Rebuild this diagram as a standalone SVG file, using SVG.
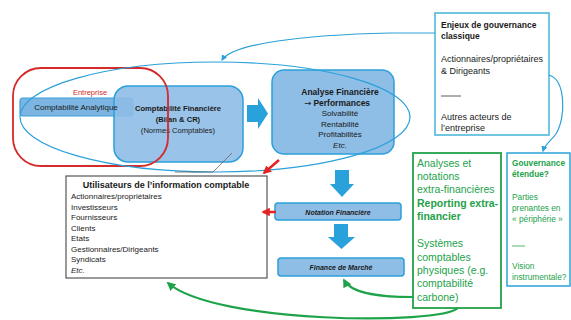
<svg xmlns="http://www.w3.org/2000/svg" width="571" height="320" viewBox="0 0 571 320">
<defs>
<style>
text{font-family:"Liberation Sans",Arial,sans-serif;fill:#1a1a1a}
.bx{fill:#8ebde6;stroke:#2aa1d9;stroke-width:1.5}
.arr{fill:#29a2dc}
.b{font-weight:bold}
.c{text-anchor:middle}
.g{fill:#23a24a}
.blue{fill:none;stroke:#2aa1d9;stroke-width:1.2}
.green{fill:none;stroke:#1fa34a;stroke-width:2.2}
.red{fill:none;stroke:#e52421;stroke-width:2.5}
</style>
<marker id="mb" viewBox="0 0 10 10" refX="8" refY="5" markerWidth="5" markerHeight="5" orient="auto"><path d="M0,0 L10,5 L0,10 z" fill="#2aa1d9"/></marker>
<marker id="mg" viewBox="0 0 10 10" refX="8" refY="5" markerWidth="4" markerHeight="4" orient="auto"><path d="M0,0 L10,5 L0,10 z" fill="#1fa34a"/></marker>
<marker id="mr" viewBox="0 0 10 10" refX="8" refY="5" markerWidth="3.4" markerHeight="3.4" orient="auto"><path d="M0,0 L10,5 L0,10 z" fill="#e52421"/></marker>
</defs>
<rect width="571" height="320" fill="#ffffff"/>

<g id="compta-analytique">
<rect x="20" y="98" width="113" height="18" rx="3" fill="#7db5e2" stroke="#3aa0d8" stroke-width="1.2"/>
</g>
<g id="compta-financiere">
<rect class="bx" x="114" y="86" width="129" height="76" rx="14" fill-opacity="0.9"/>
<text class="b c" x="178" y="111" font-size="7.6">Comptabilité Financière</text>
<text class="b c" x="178" y="122" font-size="7.6">(Bilan &amp; CR)</text>
<text class="c" x="178" y="133" font-size="7.6">(Normes Comptables)</text>
</g>
<g id="compta-analytique-label">
<text class="c" x="76" y="110" font-size="8">Comptabilité Analytique</text>
</g>
<g id="analyse-financiere">
<rect class="bx" x="272" y="70" width="122" height="84" rx="12"/>
<text class="b c" x="340" y="95" font-size="8.5">Analyse Financière</text>
<text class="b c" x="337" y="106" font-size="8.5"><tspan font-family="DejaVu Sans" font-weight="normal">→</tspan> Performances</text>
<text class="c" x="340" y="116" font-size="8">Solvabilité</text>
<text class="c" x="340" y="127" font-size="8">Rentabilité</text>
<text class="c" x="340" y="137" font-size="8">Profitabilités</text>
<text class="c" x="340" y="148" font-size="8" font-style="italic">Etc.</text>
</g>
<g id="enjeux">
<rect x="435" y="13" width="114" height="122" fill="#ffffff" stroke="#45b4d8" stroke-width="1.5"/>
<text class="b" x="441" y="28" font-size="8.5">Enjeux de gouvernance</text>
<text class="b" x="441" y="39" font-size="8.5">classique</text>
<text x="441" y="62" font-size="9">Actionnaires/propriétaires</text>
<text x="441" y="74" font-size="9">&amp; Dirigeants</text>
<line x1="441" y1="96" x2="461" y2="96" stroke="#333" stroke-width="0.8"/>
<text x="441" y="120" font-size="9">Autres acteurs de</text>
<text x="441" y="131" font-size="9">l’entreprise</text>
</g>
<g id="utilisateurs">
<rect x="66" y="176" width="201" height="102" fill="#ffffff" stroke="#555" stroke-width="1.2"/>
<text class="b c" x="166" y="188" font-size="9">Utilisateurs de l’information comptable</text>
<text x="71" y="199" font-size="8">Actionnaires/propriétaires</text>
<text x="71" y="210" font-size="8">Investisseurs</text>
<text x="71" y="220" font-size="8">Fournisseurs</text>
<text x="71" y="231" font-size="8">Clients</text>
<text x="71" y="241" font-size="8">Etats</text>
<text x="71" y="252" font-size="8">Gestionnaires/Dirigeants</text>
<text x="71" y="262" font-size="8">Syndicats</text>
<text x="71" y="273" font-size="8" font-style="italic">Etc.</text>
</g>
<g id="notation">
<rect class="bx" x="275" y="203" width="126" height="17" rx="3"/>
<text class="b c" x="338" y="214.5" font-size="7" font-style="italic">Notation Financière</text>
</g>
<g id="finance-marche">
<rect class="bx" x="278" y="258" width="126" height="18" rx="3"/>
<text class="b c" x="341" y="269.5" font-size="7" font-style="italic">Finance de Marché</text>
</g>
<g id="extra-financier">
<rect x="413" y="153" width="88" height="155" fill="#ffffff" stroke="#23a24a" stroke-width="1.8"/>
<text class="g" x="417" y="167" font-size="10.5">Analyses et</text>
<text class="g" x="417" y="180" font-size="10.5">notations</text>
<text class="g" x="417" y="193" font-size="10.5">extra-financières</text>
<text class="g b" x="417" y="207" font-size="10.5">Reporting extra-</text>
<text class="g b" x="417" y="220" font-size="10.5">financier</text>
<text class="g" x="417" y="247" font-size="10.5">Systèmes</text>
<text class="g" x="417" y="261" font-size="10.5">comptables</text>
<text class="g" x="417" y="274" font-size="10.5">physiques (e.g.</text>
<text class="g" x="417" y="287" font-size="10.5">comptabilité</text>
<text class="g" x="417" y="301" font-size="10.5">carbone)</text>
</g>
<g id="gouvernance-etendue">
<rect x="507" y="153" width="63" height="133" fill="#ffffff" stroke="#2aa1d9" stroke-width="1.5"/>
<text class="g b" x="512" y="166" font-size="8.3">Gouvernance</text>
<text class="g b" x="512" y="177" font-size="8.3">étendue?</text>
<text class="g" x="512" y="200" font-size="8.3">Parties</text>
<text class="g" x="512" y="211" font-size="8.3">prenantes en</text>
<text class="g" x="512" y="222" font-size="8.3">« périphérie »</text>
<line x1="512" y1="246" x2="525" y2="246" stroke="#23a24a" stroke-width="0.8"/>
<text class="g" x="512" y="269" font-size="8.3">Vision</text>
<text class="g" x="512" y="280" font-size="8.3">instrumentale?</text>
</g>
<g id="entreprise">
<rect x="13" y="68" width="155" height="98" rx="28" fill="none" stroke="#d42a2a" stroke-width="1.8"/>
<text class="c" x="90" y="95" font-size="7.5" style="fill:#d42a2a">Entreprise</text>
</g>

<g id="connectors">
<ellipse cx="215" cy="117" rx="195" ry="55" class="blue"/>
<polygon class="arr" points="247,105 258,105 258,98 268,113.5 258,129 258,122 247,122"/>
<polygon class="arr" points="335,170 349,170 349,184 354,184 342,197 330,184 335,184"/>
<polygon class="arr" points="334,224 348,224 348,237 355,237 341.5,249 328,237 334,237"/>
<path class="blue" d="M435,33 L390,33 C300,35 232,44 222,60" marker-end="url(#mb)"/>
<path class="blue" d="M549,75 C566,80 566,118 556,134 C550,142 545,144 543,151" marker-end="url(#mb)"/>
<path d="M232,153 L213,172 L175,172" fill="none" stroke="#666" stroke-width="0.8"/>
<path class="red" d="M279,160 L264,173" marker-end="url(#mr)"/>
<path class="red" d="M276,212 L263,212" marker-end="url(#mr)"/>
<path class="green" d="M413,297 C385,297 352,295 344,280" marker-end="url(#mg)"/>
<path class="green" d="M458,308 C440,325 215,324 168,283" marker-end="url(#mg)"/>
</g>
</svg>
